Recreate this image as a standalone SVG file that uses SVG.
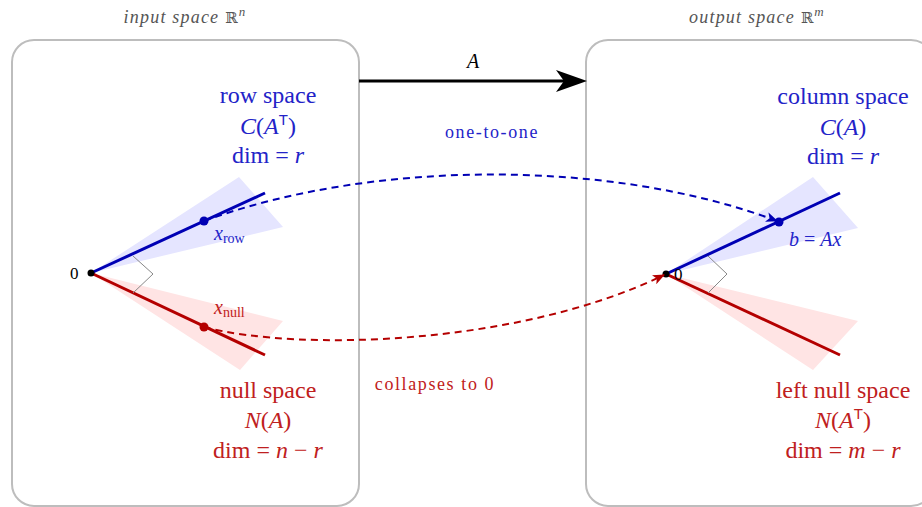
<svg xmlns="http://www.w3.org/2000/svg" width="922" height="507" viewBox="0 0 922 507">
<defs>
<style>
.box{fill:none;stroke:#bdbdbd;stroke-width:2}
.t{font-family:"Liberation Serif","Times New Roman",serif}
.lbl{font-size:24px;text-anchor:middle}
.blue{fill:#2323c8}
.red{fill:#bf2020}
.i{font-style:italic}
.sm{font-size:20px}
.title{font-size:18px;font-style:italic;fill:#555;text-anchor:middle;letter-spacing:1.2px}
.bl{stroke:#0000b4;stroke-width:3;fill:none}
.rl{stroke:#b40000;stroke-width:3;fill:none}
.bd{stroke:#0000b4;stroke-width:2;fill:none;stroke-dasharray:7 5}
.rd{stroke:#b40000;stroke-width:2;fill:none;stroke-dasharray:7 5}
.ra{stroke:#888;stroke-width:1;fill:none}
</style>
<marker id="mb" viewBox="0 0 12 10" refX="11" refY="5" markerWidth="12" markerHeight="10" markerUnits="userSpaceOnUse" orient="auto"><path d="M0,0 L12,5 L0,10 L3,5 Z" fill="#0000b4"/></marker>
<marker id="mr" viewBox="0 0 12 10" refX="11" refY="5" markerWidth="12" markerHeight="10" markerUnits="userSpaceOnUse" orient="auto"><path d="M0,0 L12,5 L0,10 L3,5 Z" fill="#b40000"/></marker>
</defs>

<g id="input-space">
<rect class="box" x="12" y="40" width="347" height="466" rx="22"/>
<text class="t title" x="185" y="23">input space <tspan font-family="DejaVu Serif,serif" font-style="normal" font-size="15">ℝ</tspan><tspan font-size="13" dy="-7">n</tspan></text>
</g>

<g id="output-space">
<rect class="box" x="586" y="40" width="347" height="466" rx="22"/>
<text class="t title" x="757" y="23">output space <tspan font-family="DejaVu Serif,serif" font-style="normal" font-size="15">ℝ</tspan><tspan font-size="13" dy="-7">m</tspan></text>
</g>

<g id="row-space">
<polygon points="91,273 239,177 283,227" fill="#e5e5ff"/>
<line class="bl" x1="91" y1="273" x2="265" y2="193"/>
<circle cx="204" cy="221" r="4.5" fill="#0000b4"/>
<text class="t sm blue" x="214" y="240"><tspan class="i">x</tspan><tspan font-size="14" dy="3">row</tspan></text>
<text class="t lbl blue" x="268" y="103">row space</text>
<text class="t lbl blue" x="268" y="134"><tspan class="i">C</tspan>(<tspan class="i">A</tspan><tspan font-family="Liberation Sans,sans-serif" font-size="15" dy="-9">T</tspan><tspan dy="9">)</tspan></text>
<text class="t lbl blue" x="268" y="163">dim = <tspan class="i">r</tspan></text>
</g>

<g id="null-space">
<polygon points="91,273 283,321 240,370" fill="#ffe4e4"/>
<line class="rl" x1="91" y1="273" x2="265" y2="355"/>
<circle cx="204" cy="327" r="4.5" fill="#b40000"/>
<text class="t sm red" x="214" y="314"><tspan class="i">x</tspan><tspan font-size="14" dy="3">null</tspan></text>
<text class="t lbl red" x="268" y="398">null space</text>
<text class="t lbl red" x="268" y="428"><tspan class="i">N</tspan>(<tspan class="i">A</tspan>)</text>
<text class="t lbl red" x="268" y="458">dim = <tspan class="i">n</tspan> − <tspan class="i">r</tspan></text>
</g>

<g id="origin-in">
<polyline class="ra" points="133,256 153,274 133,293"/>
<circle cx="91" cy="273" r="3.5" fill="#000"/>
<text class="t" font-size="17" x="70" y="279">0</text>
</g>

<g id="column-space">
<polygon points="666,274 813,177 858,228" fill="#e5e5ff"/>
<line class="bl" x1="666" y1="274" x2="840" y2="193"/>
<circle cx="779" cy="222" r="4.5" fill="#0000b4"/>
<text class="t sm blue" x="789" y="246"><tspan class="i">b</tspan> = <tspan class="i">Ax</tspan></text>
<text class="t lbl blue" x="843" y="104">column space</text>
<text class="t lbl blue" x="843" y="135"><tspan class="i">C</tspan>(<tspan class="i">A</tspan>)</text>
<text class="t lbl blue" x="843" y="164">dim = <tspan class="i">r</tspan></text>
</g>

<g id="left-null-space">
<polygon points="666,274 858,321 813,370" fill="#ffe4e4"/>
<line class="rl" x1="666" y1="274" x2="840" y2="355"/>
<text class="t lbl red" x="843" y="398">left null space</text>
<text class="t lbl red" x="843" y="428"><tspan class="i">N</tspan>(<tspan class="i">A</tspan><tspan font-family="Liberation Sans,sans-serif" font-size="15" dy="-9">T</tspan><tspan dy="9">)</tspan></text>
<text class="t lbl red" x="843" y="458">dim = <tspan class="i">m</tspan> − <tspan class="i">r</tspan></text>
</g>

<g id="origin-out">
<polyline class="ra" points="708,256 727,274 708,293"/>
<circle cx="666" cy="274" r="3.5" fill="#000"/>
<text class="t" font-size="17" x="674" y="280">0</text>
</g>

<g id="connectors">
<line x1="359" y1="81" x2="570" y2="81" stroke="#000" stroke-width="3"/>
<path d="M587,81 L556,70 L564,81 L556,92 Z" fill="#000"/>
<text class="t i" font-size="20" x="473" y="68" text-anchor="middle">A</text>
<text class="t blue" font-size="18" letter-spacing="1.6" x="492" y="138" text-anchor="middle">one-to-one</text>
<path class="bd" d="M204,221 C370,160 610,158 777,221" marker-end="url(#mb)"/>
<path class="rd" d="M204,327 C300,352 520,345 664,275" marker-end="url(#mr)"/>
<text class="t red" font-size="18" letter-spacing="1.6" x="435" y="390" text-anchor="middle">collapses to 0</text>
</g>
</svg>
